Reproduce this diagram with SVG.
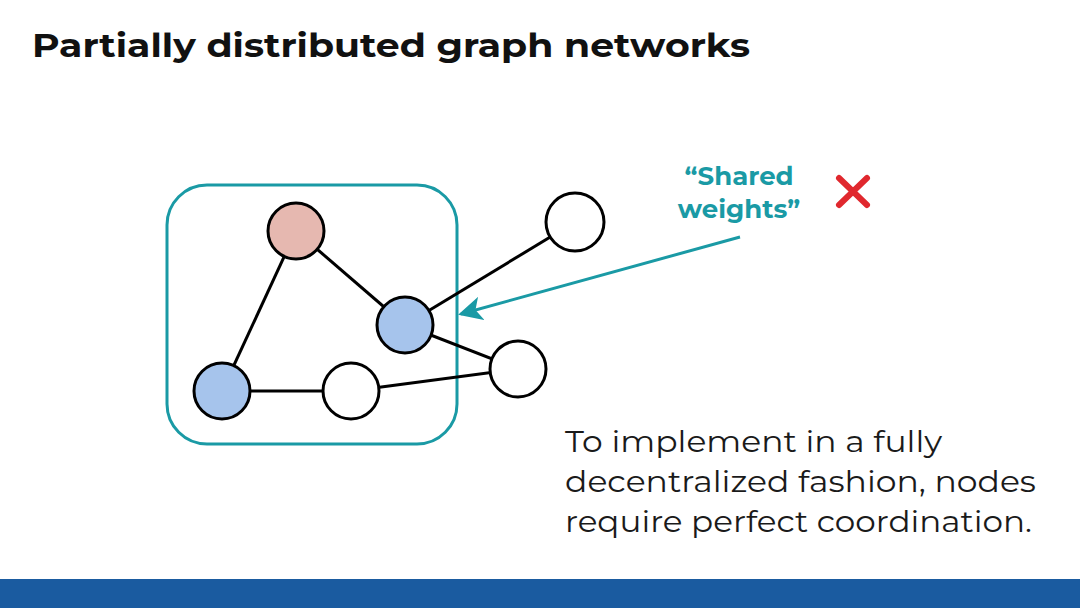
<svg xmlns="http://www.w3.org/2000/svg" width="1080" height="608" viewBox="0 0 1080 608">
<style>
.node{stroke:#000;stroke-width:3}
.edge{stroke:#000;stroke-width:3;fill:none}
</style>
<defs>
<marker id="ah" markerWidth="8" markerHeight="8" refX="7" refY="4" orient="auto" markerUnits="strokeWidth">
<path d="M0,0 L8,4 L0,8 L2,4 Z" fill="#1a9aa5"/>
</marker>
</defs>
<rect width="1080" height="608" fill="#fff"/>
<text x="32" y="57" font-family="Montserrat, 'Open Sans', 'Liberation Sans', sans-serif" font-weight="700" font-size="32" textLength="718" lengthAdjust="spacingAndGlyphs" fill="#111">Partially distributed graph networks</text>
<rect x="167" y="185" width="290" height="259" rx="40" fill="none" stroke="#1a9aa5" stroke-width="3"/>
<g id="connectors">
<line class="edge" x1="296" y1="231" x2="405" y2="325"/>
<line class="edge" x1="296" y1="231" x2="222" y2="391"/>
<line class="edge" x1="405" y1="325" x2="575" y2="222"/>
<line class="edge" x1="405" y1="325" x2="518" y2="369"/>
<line class="edge" x1="222" y1="391" x2="351" y2="391"/>
<line class="edge" x1="351" y1="391" x2="518" y2="369"/>
<line x1="740" y1="237" x2="461" y2="314" stroke="#1a9aa5" stroke-width="3" marker-end="url(#ah)"/>
</g>
<g id="n1"><circle class="node" cx="296" cy="231" r="28" fill="#e6b8b0"/></g>
<g id="n2"><circle class="node" cx="405" cy="325" r="28" fill="#a6c4ec"/></g>
<g id="n3"><circle class="node" cx="222" cy="391" r="28" fill="#a6c4ec"/></g>
<g id="n4"><circle class="node" cx="351" cy="391" r="28" fill="#fff"/></g>
<g id="n5"><circle class="node" cx="518" cy="369" r="28" fill="#fff"/></g>
<g id="n6"><circle class="node" cx="575" cy="222" r="29" fill="#fff"/></g>
<g id="label" font-family="Montserrat, 'Open Sans', 'Liberation Sans', sans-serif" font-weight="700" font-size="26" fill="#1a9aa5" text-anchor="middle">
<text x="739" y="185">“Shared</text>
<text x="739" y="218">weights”</text>
</g>
<g id="cross" stroke="#e0282e" stroke-width="6" stroke-linecap="round">
<line x1="839" y1="178" x2="867" y2="205"/>
<line x1="867" y1="178" x2="839" y2="205"/>
</g>
<g font-family="Montserrat, 'Open Sans', 'Liberation Sans', sans-serif" font-size="30" fill="#1a1a1a" lengthAdjust="spacingAndGlyphs">
<text x="565" y="452" textLength="377" lengthAdjust="spacingAndGlyphs">To implement in a fully</text>
<text x="565" y="492" textLength="471" lengthAdjust="spacingAndGlyphs">decentralized fashion, nodes</text>
<text x="565" y="532" textLength="467" lengthAdjust="spacingAndGlyphs">require perfect coordination.</text>
</g>
<rect x="0" y="579" width="1080" height="29" fill="#1a5ba0"/>
</svg>
